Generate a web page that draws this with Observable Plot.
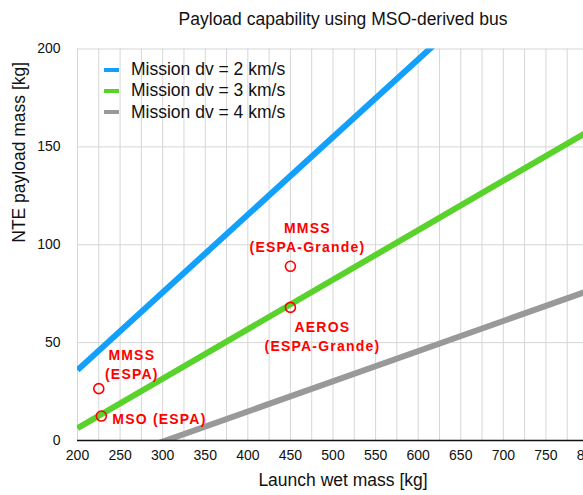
<!DOCTYPE html>
<html>
<head>
<meta charset="utf-8">
<script src="https://cdn.jsdelivr.net/npm/d3@7"></script>
<script src="https://cdn.jsdelivr.net/npm/@observablehq/plot@0.6"></script>
<style>
  html, body { margin: 0; padding: 0; background: #fff; overflow: hidden; }
  #wrap { position: relative; width: 583px; height: 495px; font-family: "Liberation Sans", Arial, Helvetica, sans-serif; }
  #title { position: absolute; left: 103px; right: 0; top: 9px; text-align: center; font-size: 17.5px; color: #111; }
  #legend { position: absolute; left: 104px; top: 59px; font-size: 17.5px; color: #111; }
  .entry { display: flex; align-items: center; height: 21.3px; }
  .sw { display: inline-block; width: 15px; height: 4px; margin-right: 12px; }
  svg { position: absolute; left: 0; top: 0; }
</style>
</head>
<body>
<div id="wrap">
  <div id="title">Payload capability using MSO-derived bus</div>
</div>
<script>
// ---- data ----
const seriesNames = ["Mission dv = 2 km/s", "Mission dv = 3 km/s", "Mission dv = 4 km/s"];
const seriesColors = ["#12a0fb", "#5ad22c", "#999999"];
const lineMass = [200, 800];                 // launch wet mass [kg]
const payloadDv2 = [36, 274];                // NTE payload mass [kg]
const payloadDv3 = [6.3, 158];
const payloadDv4 = [-16, 76.5];

const pointLabels = ["MMSS\n(ESPA)", "MSO (ESPA)", "MMSS\n(ESPA-Grande)", "AEROS\n(ESPA-Grande)"];
const pointMass = [225, 228, 450, 450];
const pointPayload = [26.5, 12.5, 89, 68];

const xTicks = [200, 250, 300, 350, 400, 450, 500, 550, 600, 650, 700, 750, 800];
const yTicks = [0, 50, 100, 150, 200];
const xLabel = "Launch wet mass [kg]";
const yLabel = "NTE payload mass [kg]";

// ---- build ----
const payloads = [payloadDv2, payloadDv3, payloadDv4];
const lineData = [];
seriesNames.forEach((s, i) => lineMass.forEach((m, j) => lineData.push({series: s, mass: m, payload: payloads[i][j]})));
const points = pointLabels.map((l, i) => ({label: l, mass: pointMass[i], payload: pointPayload[i]}));
const xGrid = d3.range(200, 801, 25);
const red = "#ff0000";

const annStyle = [
  {textAnchor: "middle", dx: 33, dy: -25},
  {textAnchor: "start", dx: 11, dy: 1.5},
  {textAnchor: "middle", dx: 17, dy: -29.5},
  {textAnchor: "middle", dx: 32, dy: 28}
];

const plot = Plot.plot({
  width: 583,
  height: 495,
  marginLeft: 77,
  marginRight: -5,
  marginTop: 48.5,
  marginBottom: 55,
  style: {fontFamily: "Liberation Sans, Arial, Helvetica, sans-serif", background: "transparent", color: "#111"},
  x: {domain: [200, 800]},
  y: {domain: [0, 200]},
  color: {domain: seriesNames, range: seriesColors},
  marks: [
    Plot.gridX(xGrid, {stroke: "#d6d6d6", strokeOpacity: 1, strokeWidth: 1}),
    Plot.gridY(yTicks, {stroke: "#d6d6d6", strokeOpacity: 1, strokeWidth: 1}),
    Plot.line(lineData, {x: "mass", y: "payload", z: "series", stroke: "series", strokeWidth: 6, strokeLinecap: "butt", clip: true}),
    Plot.ruleY([0], {stroke: "#111", strokeWidth: 1.5}),
    Plot.dot(points, {x: "mass", y: "payload", r: 5, stroke: red, strokeWidth: 1.6, fill: "none"}),
    ...points.map((p, i) => Plot.text([p], {
      x: "mass", y: "payload", text: "label", fill: red, fontSize: 14, fontWeight: "bold",
      lineHeight: 1.36, lineAnchor: "middle", ...annStyle[i]
    })),
    Plot.axisX(xTicks, {tickSize: 0, tickPadding: 10, fontSize: 14, label: null}),
    Plot.axisY(yTicks, {tickSize: 0, tickPadding: 17, fontSize: 14, label: null}),
    Plot.text([xLabel], {frameAnchor: "bottom", dx: 10, dy: 45, fontSize: 17.5, fill: "#111"}),
    Plot.text([yLabel], {frameAnchor: "left", dx: -58, dy: -2, rotate: -90, fontSize: 17.5, fill: "#111"})
  ]
});
d3.select(plot).selectAll(`g[fill="${red}"] text`).style("letter-spacing", "1.2px");
const wrap = document.getElementById("wrap");
wrap.appendChild(plot);

// legend overlay
const legend = document.createElement("div");
legend.id = "legend";
seriesNames.forEach((s, i) => {
  const e = document.createElement("div");
  e.className = "entry";
  const sw = document.createElement("span");
  sw.className = "sw";
  sw.style.background = seriesColors[i];
  e.appendChild(sw);
  e.appendChild(document.createTextNode(s));
  legend.appendChild(e);
});
wrap.appendChild(legend);
const t = document.getElementById("title");
wrap.appendChild(t);
</script>
</body>
</html>
